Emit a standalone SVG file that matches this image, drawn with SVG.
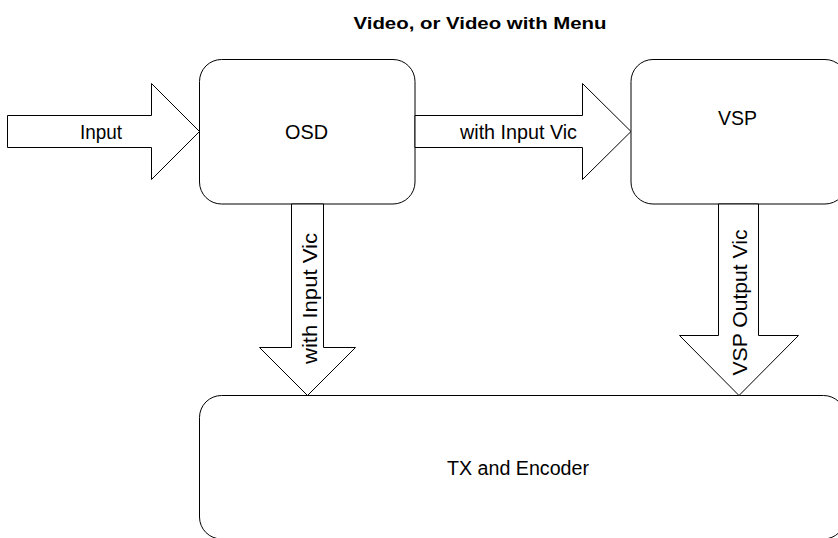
<svg xmlns="http://www.w3.org/2000/svg" width="838" height="538" viewBox="0 0 838 538">
<style>
.box{fill:#fff;stroke:#000;stroke-width:1}
.arrow{fill:#fff;stroke:#000;stroke-width:1;stroke-linejoin:miter}
.lbl{font-family:"Liberation Sans",Arial,sans-serif;font-size:20px;fill:#000}
.title{font-family:"Liberation Sans",Arial,sans-serif;font-size:16px;font-weight:bold;fill:#000}
</style>
<rect width="838" height="538" fill="#fff"/>
<text class="title" x="480" y="29" text-anchor="middle" textLength="253" lengthAdjust="spacingAndGlyphs">Video, or Video with Menu</text>
<g id="osd">
<rect class="box" x="199.5" y="59.5" width="215.5" height="144.5" rx="22" ry="22"/>
<text class="lbl" x="306.5" y="138.5" text-anchor="middle" textLength="43" lengthAdjust="spacingAndGlyphs">OSD</text>
</g>
<g id="vsp">
<rect class="box" x="631" y="59.5" width="216" height="144.5" rx="22" ry="22"/>
<text class="lbl" x="737.5" y="125" text-anchor="middle" textLength="39" lengthAdjust="spacingAndGlyphs">VSP</text>
</g>
<g id="tx">
<rect class="box" x="199.5" y="395.5" width="646" height="143.5" rx="22" ry="22"/>
<text class="lbl" x="518" y="475" text-anchor="middle" textLength="142" lengthAdjust="spacingAndGlyphs">TX and Encoder</text>
</g>
<g id="connectors">
<g id="input-arrow">
<polygon class="arrow" points="7.5,115.5 151.5,115.5 151.5,83.5 199.5,131.5 151.5,179.5 151.5,147.5 7.5,147.5"/>
<text class="lbl" x="101" y="138.5" text-anchor="middle" textLength="42" lengthAdjust="spacingAndGlyphs">Input</text>
</g>
<g id="osd-vsp">
<polygon class="arrow" points="415,115.5 582.5,115.5 582.5,83.5 631,131.5 582.5,179.5 582.5,147.5 415,147.5"/>
<text class="lbl" x="518.5" y="138.5" text-anchor="middle" textLength="117" lengthAdjust="spacingAndGlyphs">with Input Vic</text>
</g>
<g id="osd-tx">
<polygon class="arrow" points="291.5,204 291.5,347.5 259.5,347.5 307.5,395.5 355.5,347.5 323.5,347.5 323.5,204"/>
<text class="lbl" transform="translate(316.5,298.5) rotate(-90)" x="0" y="0" text-anchor="middle" textLength="131" lengthAdjust="spacingAndGlyphs">with Input Vic</text>
</g>
<g id="vsp-tx">
<polygon class="arrow" points="718.5,204 718.5,335.5 679.5,335.5 739,395.5 798.5,335.5 758.5,335.5 758.5,204"/>
<text class="lbl" transform="translate(746.5,302.5) rotate(-90)" x="0" y="0" text-anchor="middle" textLength="146" lengthAdjust="spacingAndGlyphs">VSP Output Vic</text>
</g>
</g>
</svg>
